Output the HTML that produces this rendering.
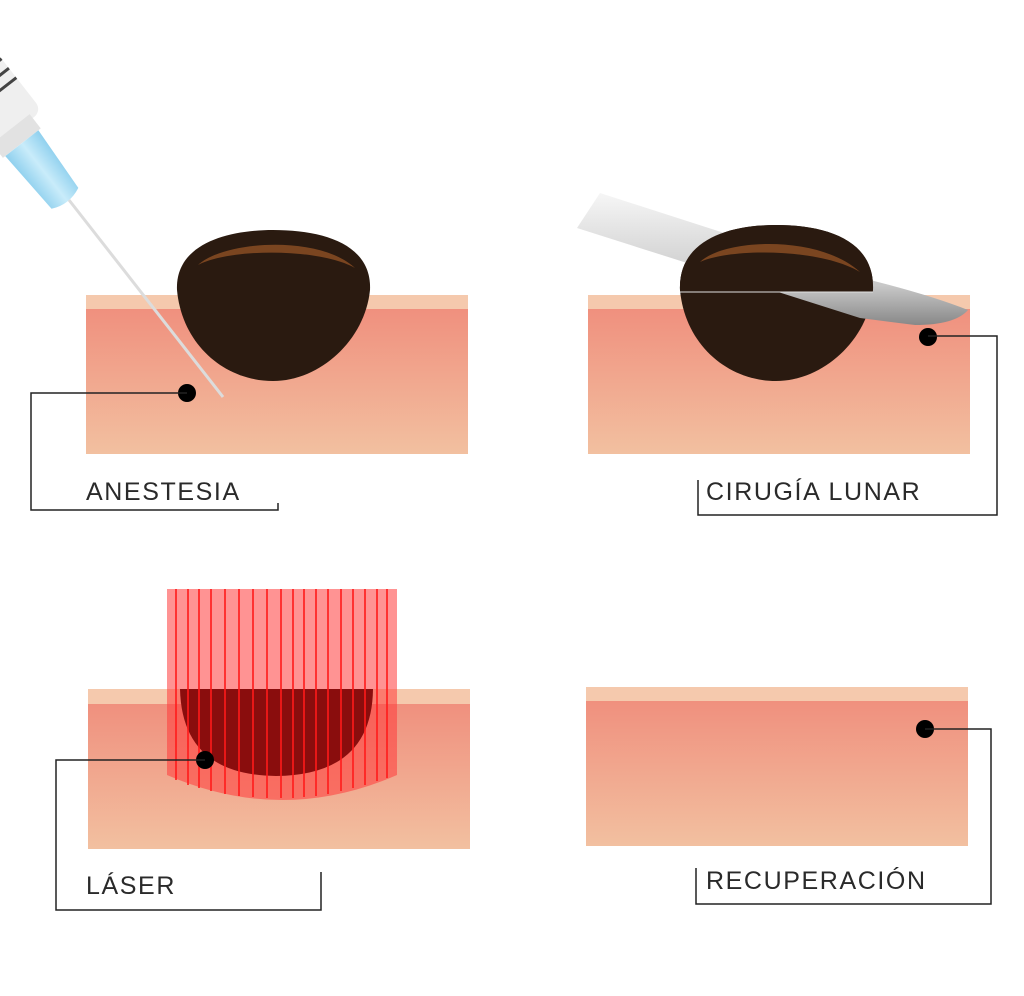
<!DOCTYPE html>
<html><head><meta charset="utf-8"><style>
html,body{margin:0;padding:0;background:#fff;}
svg{display:block}
text{font-family:"Liberation Sans",sans-serif;font-size:25px;fill:#2a2a2a;letter-spacing:1.6px}
</style></head><body>
<svg width="1024" height="996" viewBox="0 0 1024 996">
<defs>
<linearGradient id="sk" x1="0" y1="0" x2="0" y2="1"><stop offset="0" stop-color="#f0907e"/><stop offset="1" stop-color="#f2c0a0"/></linearGradient>
<linearGradient id="bl" x1="0" y1="0" x2="0" y2="1"><stop offset="0" stop-color="#f6f6f6"/><stop offset="0.7" stop-color="#c8c8c8"/><stop offset="1" stop-color="#888"/></linearGradient>
<linearGradient id="hub" x1="0" y1="0" x2="1" y2="0"><stop offset="0" stop-color="#8fd0ee"/><stop offset="0.5" stop-color="#c9ecfa"/><stop offset="1" stop-color="#8fd0ee"/></linearGradient>
<clipPath id="top2"><rect x="600" y="200" width="400" height="92"/></clipPath>
</defs>
<!-- Panel 1 -->
<rect x="86" y="295" width="382" height="14" fill="#f5c9ad"/>
<rect x="86" y="309" width="382" height="145" fill="url(#sk)"/>
<path d="M177,290 C175,245 225,230 273,230 C325,230 372,245 370,290 C365,340 320,381 273,381 C225,381 182,345 177,290Z" fill="#2a1a10"/>
<path d="M198,265 C225,240 320,235 355,268 C320,248 230,248 198,265Z" fill="#7a4520"/>
<!-- syringe -->
<g transform="translate(60,192) rotate(-38)">
<rect x="-36" y="-270" width="72" height="195" rx="10" fill="#efefef"/>
<rect x="-24" y="-80" width="48" height="18" fill="#e2e2e2"/>
<g stroke="#444" stroke-width="3"><line x1="2" y1="-165" x2="36" y2="-165"/><line x1="2" y1="-153" x2="36" y2="-153"/><line x1="2" y1="-141" x2="36" y2="-141"/><line x1="2" y1="-129" x2="36" y2="-129"/><line x1="2" y1="-117" x2="36" y2="-117"/></g>
<path d="M-21,-62 L21,-62 L17,8 Q0,16 -17,8Z" fill="url(#hub)"/>
</g>
<line x1="69" y1="200" x2="223" y2="397" stroke="#dcdcdc" stroke-width="3"/>
<circle cx="187" cy="393" r="9" fill="#000"/>
<polyline points="187,393 31,393 31,510 278,510 278,503" fill="none" stroke="#222" stroke-width="1.5"/>
<text x="86" y="500">ANESTESIA</text>
<!-- Panel 2 -->
<rect x="588" y="295" width="382" height="14" fill="#f5c9ad"/>
<rect x="588" y="309" width="382" height="145" fill="url(#sk)"/>
<path d="M680,290 C678,242 725,225 776,225 C830,225 875,242 873,290 C868,340 823,381 776,381 C728,381 685,345 680,290Z" fill="#2a1a10"/>
<path d="M577,228 L600,193 L870,280 Q930,295 968,310 Q955,325 915,325 L860,318 Z" fill="url(#bl)"/>
<g clip-path="url(#top2)">
<path d="M680,290 C678,242 725,225 776,225 C830,225 875,242 873,290 C868,340 823,381 776,381 C728,381 685,345 680,290Z" fill="#2a1a10"/>
</g>
<line x1="680" y1="292" x2="873" y2="292" stroke="#e0e0e0" stroke-width="1"/>
<path d="M700,262 C725,238 820,235 860,272 C820,248 730,248 700,262Z" fill="#7a4520"/>
<circle cx="928" cy="337" r="9" fill="#000"/>
<polyline points="928,336 997,336 997,515 698,515 698,480" fill="none" stroke="#222" stroke-width="1.5"/>
<text x="706" y="500">CIRUGÍA LUNAR</text>
<!-- Panel 3 -->
<rect x="88" y="689" width="382" height="15" fill="#f5c9ad"/>
<rect x="88" y="704" width="382" height="145" fill="url(#sk)"/>
<path d="M167,589 L397,589 L397,775 Q282,825 167,775 Z" fill="#ff3a3a" fill-opacity="0.55"/>
<path d="M180,689 L373,689 Q372,775 276,776 Q182,775 180,689Z" fill="#8a0d0d"/>
<g stroke="#ff1a1a" stroke-width="2" stroke-opacity="0.8">
<line x1="176" y1="589" x2="176" y2="780"/><line x1="188" y1="589" x2="188" y2="785"/><line x1="199" y1="589" x2="199" y2="788"/><line x1="211" y1="589" x2="211" y2="791"/><line x1="225" y1="589" x2="225" y2="794"/><line x1="239" y1="589" x2="239" y2="796"/><line x1="253" y1="589" x2="253" y2="797"/><line x1="267" y1="589" x2="267" y2="798"/><line x1="281" y1="589" x2="281" y2="798"/><line x1="293" y1="589" x2="293" y2="798"/><line x1="304" y1="589" x2="304" y2="797"/><line x1="316" y1="589" x2="316" y2="796"/><line x1="328" y1="589" x2="328" y2="794"/><line x1="341" y1="589" x2="341" y2="791"/><line x1="353" y1="589" x2="353" y2="788"/><line x1="365" y1="589" x2="365" y2="785"/><line x1="377" y1="589" x2="377" y2="781"/><line x1="387" y1="589" x2="387" y2="778"/>
</g>
<circle cx="205" cy="760" r="9" fill="#000"/>
<polyline points="205,760 56,760 56,910 321,910 321,872" fill="none" stroke="#222" stroke-width="1.5"/>
<text x="86" y="894">LÁSER</text>
<!-- Panel 4 -->
<rect x="586" y="687" width="382" height="14" fill="#f5c9ad"/>
<rect x="586" y="701" width="382" height="145" fill="url(#sk)"/>
<circle cx="925" cy="729" r="9" fill="#000"/>
<polyline points="925,729 991,729 991,904 696,904 696,868" fill="none" stroke="#222" stroke-width="1.5"/>
<text x="706" y="889">RECUPERACIÓN</text>
</svg>
</body></html>
